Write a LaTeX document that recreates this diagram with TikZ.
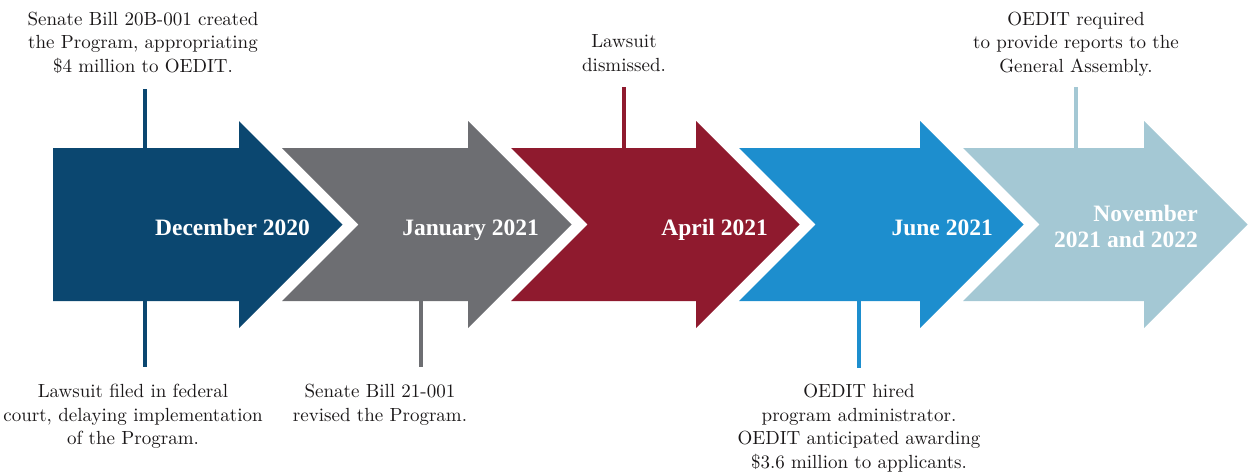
\documentclass[tikz,border=0pt]{standalone}
\usepackage{fontspec}
\newfontfamily\notefont{lmroman10-regular.otf}
\newfontfamily\datefont{Liberation Serif}
\definecolor{navy}{HTML}{0B4770}
\definecolor{slate}{HTML}{6D6E72}
\definecolor{wine}{HTML}{8F1A2E}
\definecolor{sky}{HTML}{1D8ECE}
\definecolor{mist}{HTML}{A4C8D4}
\definecolor{ink}{HTML}{1A1718}

% One chevron arrow of the timeline:
% #1 name, #2 colour, #3 left x, #4 head base x, #5 notch depth of the tail
\newcommand\tlarrow[5]{%
  \fill[#2] (#3,148) -- (#4,148) -- (#4,121) -- ({#4+103.5},224.5)
    -- (#4,328) -- (#4,301) -- (#3,301) -- ({#3+#5},224.5) -- cycle;
  \coordinate (#1-top) at ({(#3+#4)/2},148);
}

\begin{document}
\begin{tikzpicture}[x=1pt,y=-1pt,
  note/.style={inner sep=0pt, anchor=north, align=center, text=ink,
    font=\notefont\fontsize{19}{23.5}\selectfont},
  datelabel/.style={inner sep=0pt, anchor=base east, align=right, text=white,
    font=\datefont\fontsize{23.5}{26}\selectfont\bfseries},
  tick/.style={line width=3.2pt}]
\useasboundingbox (0,0) rectangle (1254,472);

% annotation texts
\node[note] (n1) at (143,11.8) {Senate Bill 20B-001 created\\the Program, appropriating\\\$4 million to OEDIT.};
\node[note] (n2) at (133,384) {Lawsuit filed in federal\\court, delaying implementation\\of the Program.};
\node[note] (n3) at (380,384) {Senate Bill 21-001\\revised the Program.};
\node[note] (n4) at (624,34.8) {Lawsuit\\dismissed.};
\node[note] (n5) at (859,384) {OEDIT hired\\program administrator.\\OEDIT anticipated awarding\\\$3.6 million to applicants.};
\node[note] (n6) at (1076,11.8) {OEDIT required\\to provide reports to the\\General Assembly.};

% tick anchors on the arrows
\coordinate (t1a) at (145,89);   \coordinate (t1b) at (145,148);
\coordinate (t2a) at (145,301);  \coordinate (t2b) at (145,367);
\coordinate (t3a) at (421,301);  \coordinate (t3b) at (421,367);
\coordinate (t4a) at (624,87);   \coordinate (t4b) at (624,148);
\coordinate (t5a) at (859,301);  \coordinate (t5b) at (859,368);
\coordinate (t6a) at (1076,87);  \coordinate (t6b) at (1076,148);

\draw[tick, navy]  (t1a) -- (t1b);
\draw[tick, navy]  (t2a) -- (t2b);
\draw[tick, slate] (t3a) -- (t3b);
\draw[tick, wine]  (t4a) -- (t4b);
\draw[tick, sky]   (t5a) -- (t5b);
\draw[tick, mist]  (t6a) -- (t6b);

% the five arrows
\tlarrow{a1}{navy}{53}{239}{0}
\tlarrow{a2}{slate}{282}{468}{76.5}
\tlarrow{a3}{wine}{511}{696}{76.5}
\tlarrow{a4}{sky}{739}{920}{76.5}
\tlarrow{a5}{mist}{963}{1144}{76.5}

% date labels
\node[datelabel] (d1) at (310,235) {December 2020};
\node[datelabel] (d2) at (539,235) {January 2021};
\node[datelabel] (d3) at (768,235) {April 2021};
\node[datelabel] (d4) at (993,235) {June 2021};
\node[datelabel, anchor=north east] (d5) at (1198,205) {November\\2021 and 2022};
\end{tikzpicture}
\end{document}
